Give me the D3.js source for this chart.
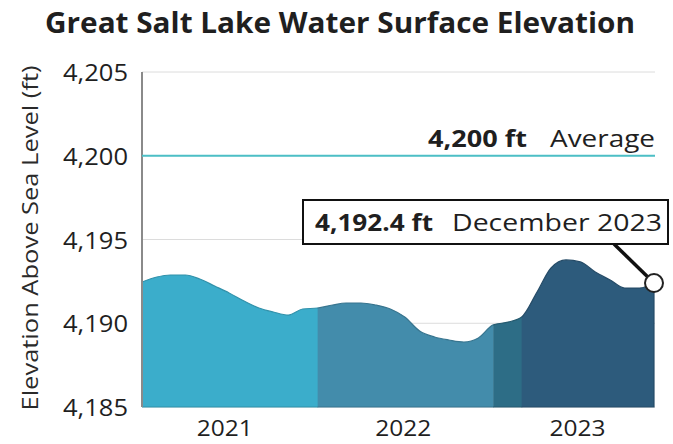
<!DOCTYPE html>
<html><head><meta charset="utf-8">
<script src="https://cdn.jsdelivr.net/npm/d3@7"></script>
<style>body{margin:0;background:#fff}svg{display:block}</style>
</head><body>
<script>
const months = ["2021-01","2021-02","2021-03","2021-04","2021-05","2021-06","2021-07","2021-08","2021-09","2021-10","2021-11","2021-12",
"2022-01","2022-02","2022-03","2022-04","2022-05","2022-06","2022-07","2022-08","2022-09","2022-10","2022-11","2022-12",
"2023-01","2023-02","2023-03","2023-04","2023-05","2023-06","2023-07","2023-08","2023-09","2023-10","2023-11","2023-12"];
const elevation = [4192.46,4192.76,4192.88,4192.88,4192.64,4192.22,4191.81,4191.33,4190.91,4190.67,4190.49,4190.85,
4190.91,4191.09,4191.21,4191.21,4191.09,4190.85,4190.37,4189.54,4189.18,4189.00,4188.88,4189.12,
4189.90,4190.07,4190.37,4191.81,4193.30,4193.78,4193.66,4193.06,4192.58,4192.10,4192.10,4192.40];
const segmentBreaks = ["2021-01","2022-01","2023-01","2023-03","2023-12"];
const segmentColors = ["#3badcb","#438cab","#2d6d86","#2d5b7c"];
const yTicks = [4185,4190,4195,4200,4205];
const xLabels = ["2021","2022","2023"];
const xLabelDates = ["2021-06-22","2022-06-28","2023-06-25"];
const averageElevation = 4200;
const latestLabel = {value:"4,192.4 ft", month:"December 2023"};

const W=673,H=444;
const parse = d3.timeParse("%Y-%m");
const data = months.map((m,i)=>({date:parse(m), v:elevation[i]}));
const svg = d3.select("body").append("svg").attr("width",W).attr("height",H);
const FONT = "'Open Sans', sans-serif";

const x = d3.scaleTime().domain([data[0].date, data[data.length-1].date]).range([142,654]);
const y = d3.scaleLinear().domain([4185,4205]).range([407,72]);

function txt(g, xx, yy, s, size, len, weight, anchor){
  return g.append("text").attr("x",xx).attr("y",yy).attr("font-family",FONT)
    .attr("font-size",size).attr("font-weight",weight||400).attr("fill","#1f1f1f")
    .attr("text-anchor",anchor||"start")
    .attr("textLength",len).attr("lengthAdjust","spacingAndGlyphs").text(s);
}

// title
txt(svg, 45, 33, "Great Salt Lake Water Surface Elevation", 28, 590, 700);

// gridlines
svg.append("g").selectAll("line").data(yTicks).join("line")
  .attr("x1",142).attr("x2",655).attr("y1",d=>y(d)).attr("y2",d=>y(d))
  .attr("stroke","#dcdcdc").attr("stroke-width",1);

// areas
const area = d3.area().x(d=>x(d.date)).y0(y(4185)).y1(d=>y(d.v)).curve(d3.curveMonotoneX);
const defs = svg.append("defs");
segmentBreaks.slice(0,-1).forEach((s,i)=>{
  const x0 = x(parse(s)), x1 = x(parse(segmentBreaks[i+1]));
  defs.append("clipPath").attr("id","seg"+i).append("rect")
    .attr("x",x0).attr("y",0).attr("width",x1-x0+(i===segmentBreaks.length-2?2:0.5)).attr("height",H);
  svg.append("path").datum(data).attr("clip-path",`url(#seg${i})`)
    .attr("d",area).attr("fill",segmentColors[i])
    .attr("stroke",d3.color(segmentColors[i]).darker(0.5)).attr("stroke-width",1.2);
});

// y axis line
svg.append("line").attr("x1",142).attr("x2",142).attr("y1",y(4205)).attr("y2",y(4185))
  .attr("stroke","#8a8a8a").attr("stroke-width",2);

// y tick labels
yTicks.forEach(d=>txt(svg, 128, y(d)+9, d3.format(",")(d), 24, 65, 400, "end"));

// y title
svg.append("text").attr("transform","translate(38,238) rotate(-90)").attr("text-anchor","middle")
  .attr("font-family",FONT).attr("font-size",21).attr("fill","#2a2a2a")
  .attr("textLength",345).attr("lengthAdjust","spacingAndGlyphs")
  .text("Elevation Above Sea Level (ft)");

// x labels
xLabels.forEach((d,i)=>txt(svg, x(d3.timeParse("%Y-%m-%d")(xLabelDates[i])), 436, d, 22, 56, 400, "middle"));

// average line
svg.append("line").attr("x1",142).attr("x2",655).attr("y1",y(averageElevation)).attr("y2",y(averageElevation))
  .attr("stroke","#4cbfc6").attr("stroke-width",2);
txt(svg, 428, y(averageElevation)-9, d3.format(",")(averageElevation)+" ft", 23, 99, 700);
txt(svg, 550, y(averageElevation)-9, "Average", 23, 105, 400);

// callout
const last = data[data.length-1];
svg.append("line").attr("x1",614).attr("y1",244).attr("x2",x(last.date)).attr("y2",y(last.v))
  .attr("stroke","#111").attr("stroke-width",3.5);
svg.append("rect").attr("x",303).attr("y",200).attr("width",365).attr("height",44)
  .attr("fill","#fff").attr("stroke","#111").attr("stroke-width",2);
txt(svg, 315, 231, latestLabel.value, 23, 118, 700);
txt(svg, 452, 231, latestLabel.month, 23, 210, 400);
svg.append("circle").attr("cx",x(last.date)).attr("cy",y(last.v)).attr("r",9)
  .attr("fill","#fff").attr("stroke","#222").attr("stroke-width",2);
</script>
</body></html>
